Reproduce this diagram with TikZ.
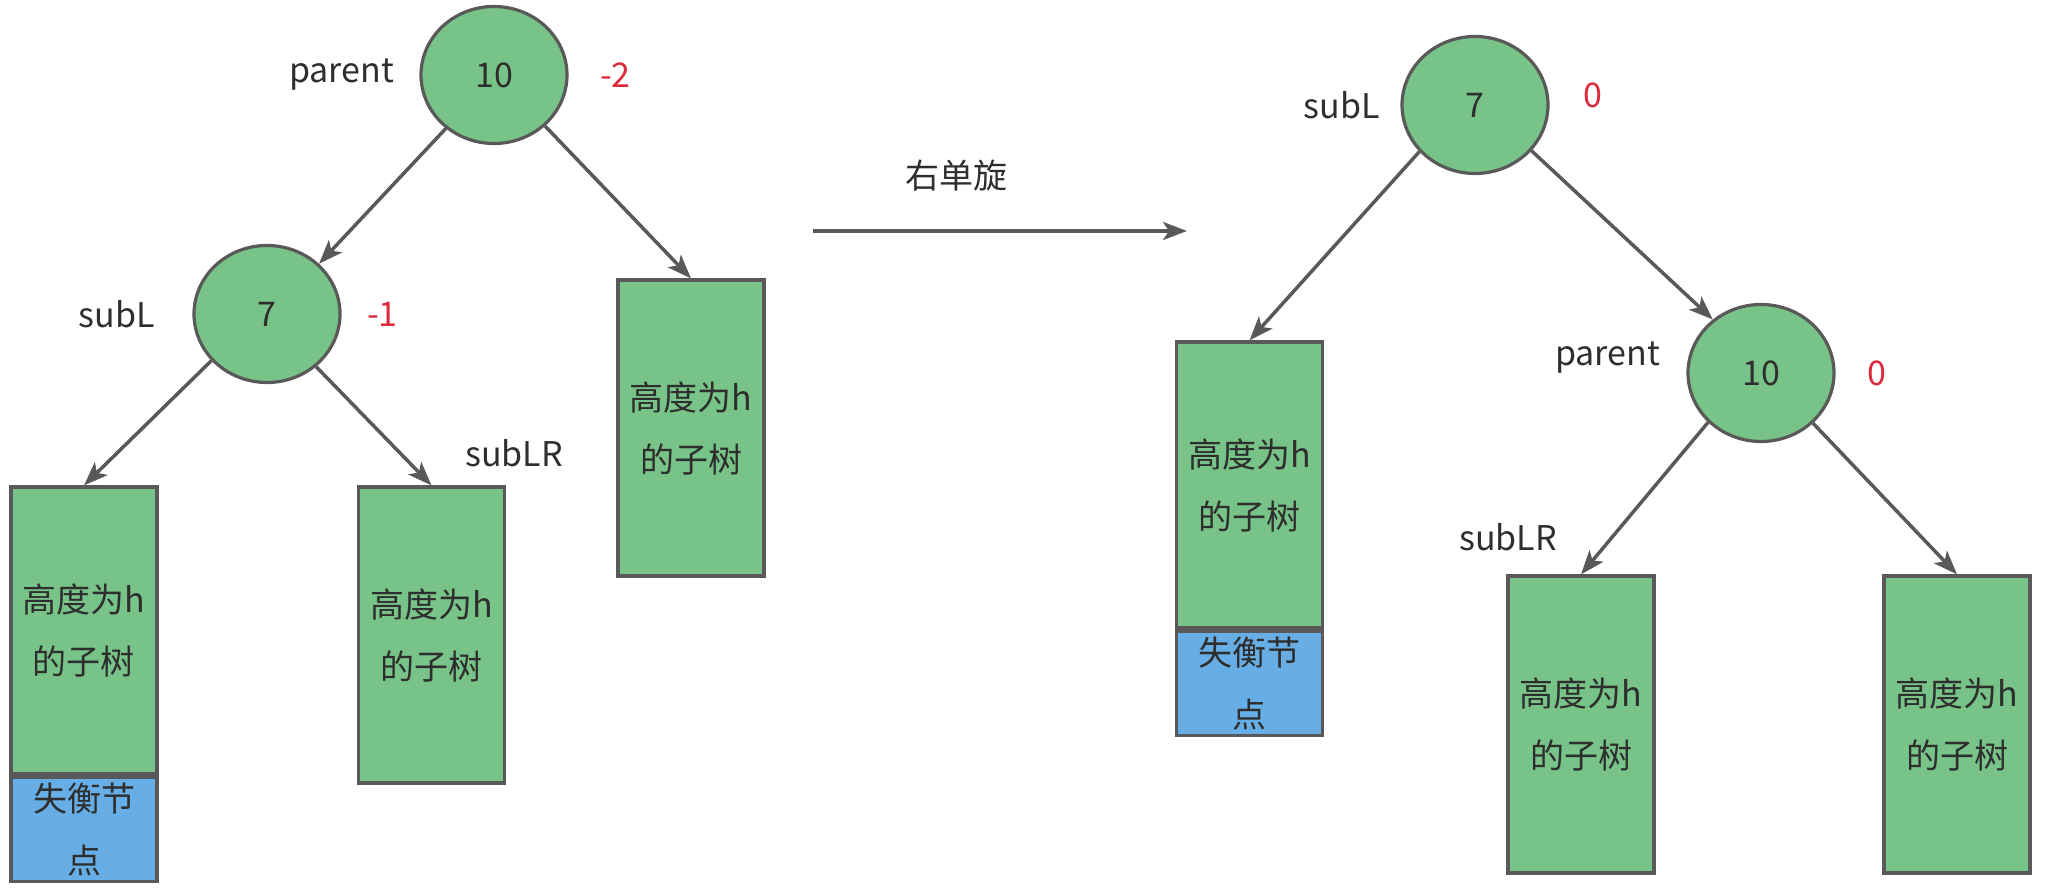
\documentclass[tikz,border=0pt]{standalone}
\usepackage{fontspec}
\setmainfont{Noto Sans CJK SC}
\usepackage{tikz}
\usetikzlibrary{positioning, arrows.meta, shapes.geometric}

\definecolor{treegreen}{HTML}{78C488}
\definecolor{lostblue}{HTML}{66AEE5}
\definecolor{edgegray}{HTML}{595959}
\definecolor{bfred}{HTML}{DC2A3C}
\definecolor{txtgray}{HTML}{2E2E2E}

\begin{document}
\begin{tikzpicture}[
        x=0.5pt, y=-0.5pt,
        font=\fontsize{17pt}{31pt}\selectfont,
        text=txtgray,
        keynode/.style={ellipse, draw=edgegray, line width=1.6pt, fill=treegreen, minimum width=73pt, minimum height=68.5pt, inner sep=0pt},
        subtree/.style={rectangle, draw=edgegray, line width=1.6pt, fill=treegreen, minimum width=73pt, align=center, inner sep=0pt},
        lostbox/.style={rectangle, draw=edgegray, line width=1.6pt, fill=lostblue, minimum width=73pt, minimum height=52pt, align=center, inner sep=0pt},
        tag/.style={inner sep=0pt},
        bf/.style={inner sep=0pt, text=bfred},
        arrow/.style={-{Stealth[length=12pt, width=9pt, inset=3pt]}, line width=1.75pt, draw=edgegray}
    ]
    \useasboundingbox (0,0) rectangle (2045,892);

    % 旋转前
    \node[keynode] (parentL) at (494,75) {10};
    \node[keynode] (subLL) at (267,314) {7};
    \node[subtree, minimum height=148pt] (hR) at (691,428) {高度为h\\的子树};
    \node[subtree, minimum height=143.5pt] (hA) at (84,630.5) {高度为h\\的子树};
    \node[lostbox, below=0pt of hA] (lostA) {失衡节\\点};
    \node[subtree, minimum height=148pt] (hB) at (431.5,635) {高度为h\\的子树};

    \node[tag, left=12.5pt of parentL] (nameP) {parent};
    \node[bf, right=15.5pt of parentL] (bfP) {-2};
    \node[tag, left=18.5pt of subLL] (nameS) {subL};
    \node[bf, right=12.5pt of subLL] (bfS) {-1};
    \node[tag] (nameLR) at (514,453) {subLR};

    % 右单旋
    \coordinate (rotA) at (813,231);
    \coordinate (rotB) at (1187,231);
    \node[tag] (rot) at (956,176) {右单旋};

    % 旋转后
    \node[keynode] (subLR) at (1475,105) {7};
    \node[keynode] (parentR) at (1761,373) {10};
    \node[subtree, minimum height=143pt] (hC) at (1249.5,485) {高度为h\\的子树};
    \node[lostbox, below=0pt of hC] (lostC) {失衡节\\点};
    \node[subtree, minimum height=148.5pt] (hD) at (1581,724.5) {高度为h\\的子树};
    \node[subtree, minimum height=148.5pt] (hE) at (1957,724.5) {高度为h\\的子树};

    \node[tag, left=10pt of subLR] (nameS2) {subL};
    \node[bf, right=16.5pt of subLR, yshift=5pt] (bfS2) {0};
    \node[tag, left=13pt of parentR, yshift=7.5pt] (nameP2) {parent};
    \node[bf, right=15.5pt of parentR] (bfP2) {0};
    \node[tag] (nameLR2) at (1508,537) {subLR};

    % 连接箭头
    \draw[arrow] (parentL.228) -- (subLL.44);
    \draw[arrow] (parentL.315) -- (hR.north);
    \draw[arrow] (subLL.220) -- (hA.north);
    \draw[arrow] (subLL.313) -- (hB.north);
    \draw[arrow] (rotA) -- (rotB);
    \draw[arrow] (subLR.220) -- (hC.north);
    \draw[arrow] (subLR.321) -- (parentR.132);
    \draw[arrow] (parentR.223) -- (hD.north);
    \draw[arrow] (parentR.316) -- (hE.north);
\end{tikzpicture}
\end{document}
